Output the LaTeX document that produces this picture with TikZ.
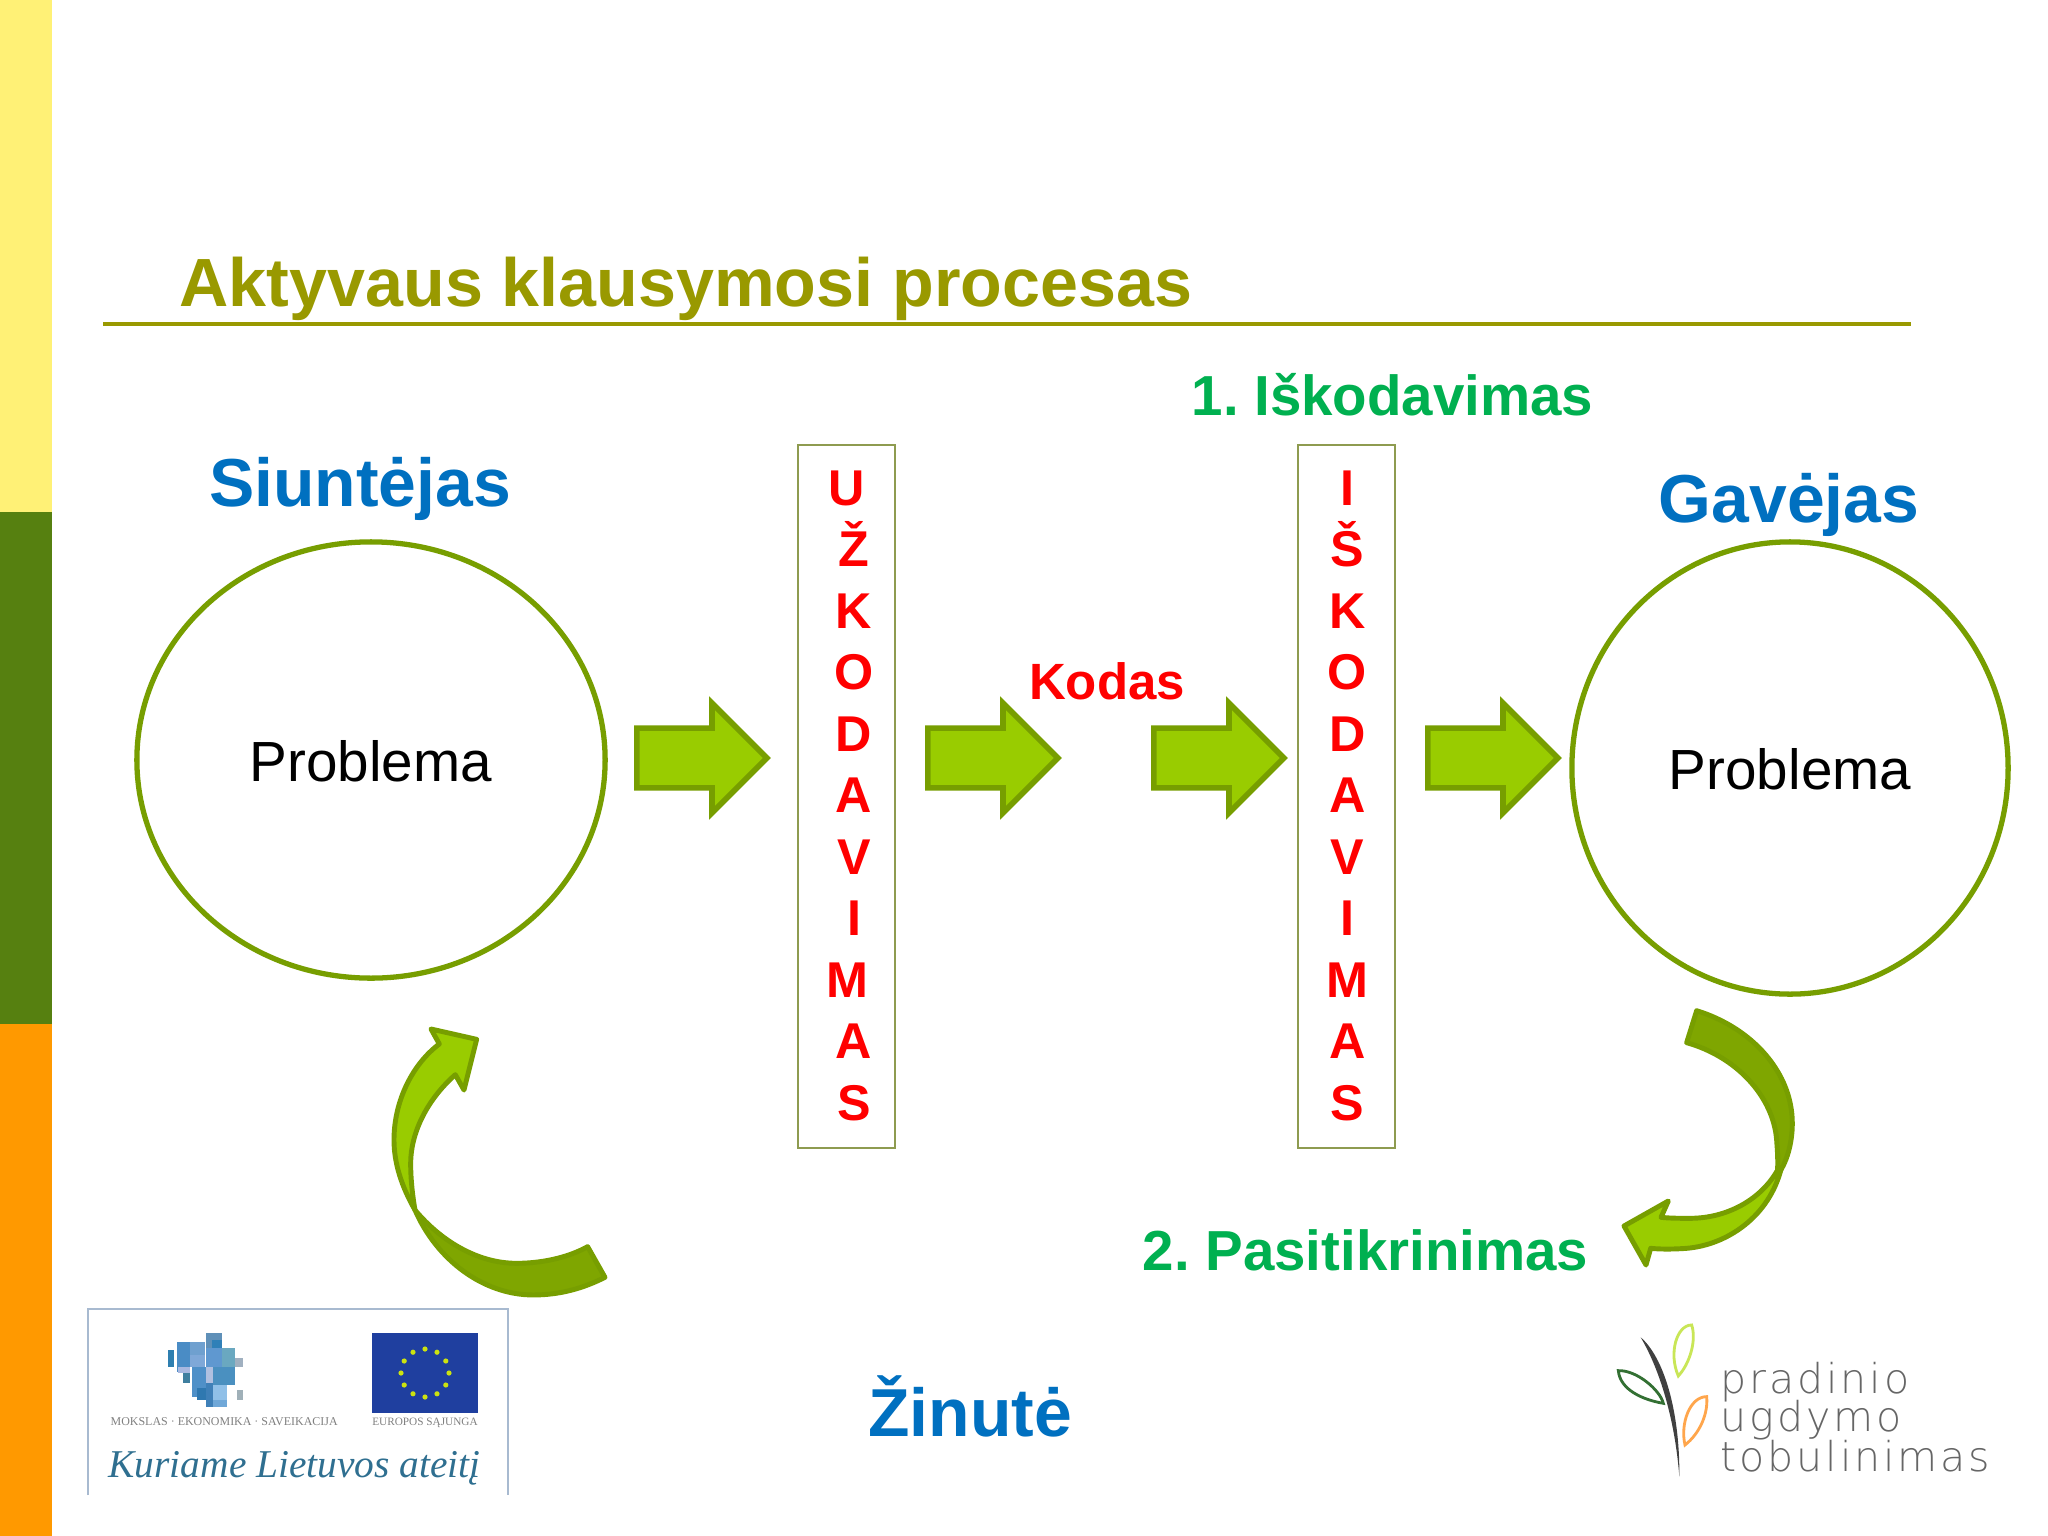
\documentclass[tikz,border=0pt]{standalone}
\usepackage{fontspec}
\setmainfont{Liberation Sans}
\newfontfamily\logoserif{Liberation Serif}
\newfontfamily\logosans[LetterSpace=7]{DejaVu Sans ExtraLight}
\usetikzlibrary{shapes.geometric,shapes.arrows}
\definecolor{olivetitle}{HTML}{999900}
\definecolor{edgegreen}{HTML}{779E00}
\definecolor{lightgreen}{HTML}{99CC00}
\definecolor{darkgreen}{HTML}{7FA600}
\definecolor{boxedge}{HTML}{8E9B50}
\definecolor{headblue}{HTML}{0070C0}
\definecolor{stepgreen}{HTML}{00B050}
\definecolor{codered}{HTML}{FF0000}
\definecolor{flagblue}{HTML}{1F3F9F}
\definecolor{baryellow}{HTML}{FFF176}
\definecolor{bargreen}{HTML}{568010}
\definecolor{barorange}{HTML}{FF9900}
\definecolor{logoedge}{HTML}{A8BAD0}
\definecolor{mottoblue}{HTML}{2F6F90}
\tikzset{
  heading/.style={anchor=base,inner sep=0pt,text=headblue,font=\fontsize{19.3}{23}\selectfont\bfseries},
  stepname/.style={anchor=base,inner sep=0pt,text=stepgreen,font=\fontsize{16.05}{19}\selectfont\bfseries\frenchspacing},
  codeletter/.style={anchor=base,inner sep=0pt,text=codered,font=\fontsize{14.3}{18}\selectfont\bfseries},
  party/.style={draw=edgegreen,line width=1.5pt,ellipse,inner sep=0pt,text height=12.5pt,text depth=0pt,font=\fontsize{16.1}{20}\selectfont},
  codebox/.style={draw=boxedge,line width=0.7pt,minimum width=0.97cm,minimum height=7.03cm,inner sep=0pt},
  blockarrow/.style={draw=edgegreen,fill=lightgreen,line width=1.6pt,single arrow,anchor=tail,inner sep=0pt,
    text height=0.54cm,text depth=0pt,minimum height=1.30cm,single arrow head extend=0.25cm},
  ribbonlight/.style={draw=edgegreen,fill=lightgreen,line width=1.4pt,line join=round},
  ribbondark/.style={draw=edgegreen,fill=darkgreen,line width=1.4pt,line join=round},
  logotext/.style={anchor=base west,inner sep=0pt,text=black!60,font=\logosans\fontsize{11.7}{14}\selectfont}
}
\begin{document}
\begin{tikzpicture}[x=0.01cm,y=-0.01cm]
\useasboundingbox (0,0) rectangle (2048,1536);
\fill[white] (0,0) rectangle (2048,1536);
\fill[baryellow] (0,0) rectangle (52,512);
\fill[bargreen] (0,512) rectangle (52,1024);
\fill[barorange] (0,1024) rectangle (52,1536);

% title
\node[anchor=base west,inner sep=0pt,text=olivetitle,font=\fontsize{19.4}{23}\selectfont\bfseries] (title) at (179,306.7) {Aktyvaus klausymosi procesas};
\draw[olivetitle,line width=1.1pt] (103,324) -- (1911,324);

\node[heading] (siuntejas) at (360,506.8) {Siuntėjas};
\node[heading] (gavejas) at (1789,522.5) {Gavėjas};
\node[heading] (zinute) at (970,1436) {Žinutė};
\node[stepname] (stepone) at (1392.5,415) {1. Iškodavimas};
\node[stepname] (steptwo) at (1365.5,1270.5) {2. Pasitikrinimas};
\node[anchor=base,inner sep=0pt,text=codered,font=\fontsize{14.5}{18}\selectfont\bfseries] (kodas) at (1107,699) {Kodas};

\node[party,minimum width=4.68cm,minimum height=4.36cm] (sender) at (371,760) {Problema};
\node[party,minimum width=4.36cm,minimum height=4.52cm] (receiver) at (1790,768) {Problema};

\node[codebox] (encode) at (846.5,796.5) {};
\node[codebox] (decode) at (1346.5,796.5) {};
\foreach \lettr/\xpos [count=\i from 0] in {U/847,Ž/854,K/854,O/854,D/854,A/854,V/854,I/854,M/847,A/854,S/854}
  \node[codeletter] (enc\i) at (\xpos,505+61.5*\i) {\lettr};
\foreach \lettr [count=\i from 0] in {I,Š,K,O,D,A,V,I,M,A,S}
  \node[codeletter] (dec\i) at (1347.5,505+61.5*\i) {\lettr};

\node[blockarrow] (arrowa) at (634,758) {};
\node[blockarrow] (arrowb) at (925,758) {};
\node[blockarrow] (arrowc) at (1151,758) {};
\node[blockarrow] (arrowd) at (1425,758) {};

% curved arrows
\begin{scope}[shift={(370,1000)},scale=0.3333]
\draw[ribbonlight] (135,630) .. controls (95,560) and (72,490) .. (72,420) .. controls (72,300) and (130,190) .. (208,132) -- (183,87) -- (320,118) -- (282,270) -- (256,224) .. controls (170,300) and (122,400) .. (122,490) .. controls (122,540) and (128,590) .. (135,630) -- cycle;
\draw[ribbondark] (135,630) .. controls (200,780) and (340,885) .. (490,885) .. controls (570,885) and (640,865) .. (705,832) -- (653,740) .. controls (590,775) and (510,790) .. (440,790) .. controls (320,790) and (210,720) .. (135,630) -- cycle;
\end{scope}
\begin{scope}[shift={(1580,1000)},scale=0.3333]
\draw[ribbonlight] (590,515) .. controls (540,600) and (440,655) .. (330,655) .. controls (300,655) and (270,655) .. (243,652) -- (265,603) -- (132,678) -- (198,795) -- (212,745) .. controls (240,748) and (280,748) .. (320,745) .. controls (440,735) and (570,650) .. (605,500) -- cycle;
\draw[ribbondark] (350,32) .. controls (520,85) and (637,220) .. (637,370) .. controls (637,430) and (620,490) .. (592,525) .. controls (595,480) and (592,450) .. (590,420) .. controls (580,290) and (470,170) .. (320,128) -- cycle;
% sprout
\draw[green!40!black!60!gray,line width=0.8pt] (115,1112) .. controls (170,1110) and (240,1170) .. (250,1210) .. controls (190,1200) and (120,1170) .. (115,1112) -- cycle;
\draw[yellow!70!green!70,line width=0.8pt] (335,975) .. controls (290,975) and (265,1060) .. (295,1128) .. controls (330,1090) and (350,1020) .. (335,975) -- cycle;
\draw[orange!70,line width=0.8pt] (380,1190) .. controls (330,1190) and (300,1270) .. (315,1335) .. controls (360,1300) and (385,1240) .. (380,1190) -- cycle;
\fill[black!75] (182,1012) .. controls (250,1070) and (300,1230) .. (298,1430) .. controls (285,1260) and (240,1110) .. (182,1012) -- cycle;
\end{scope}

% logos
\node[logotext] (logoa) at (1720,1393) {pradinio};
\node[logotext] (logob) at (1720,1431) {ugdymo};
\node[logotext] (logoc) at (1720,1471) {tobulinimas};

\draw[logoedge,line width=0.5pt] (88,1495) -- (88,1309) -- (508,1309) -- (508,1495);
\begin{scope}[shift={(150,1325)},scale=0.3333]
\foreach \xa/\ya/\xb/\yb/\tone in {55/75/72/125/2F7FB0,80/50/120/140/4A8CC5,120/50/165/90/6FA0CF,120/90/165/125/7FA8D8,85/125/120/145/A8B8E0,100/145/120/175/3F7F9F,125/125/168/215/4F90C8,140/190/168/225/2F78B0,168/25/215/70/5F90B8,185/45/215/70/2F80B8,168/70/215/125/5F98D0,168/125/190/175/B0C0E0,190/125/255/180/4A90C0,215/70/255/125/6AA8C0,255/100/278/125/A0B0C0,168/175/190/245/3F80B8,190/180/230/225/90C0E8,190/225/230/245/70A8D8,260/195/278/225/A0B0B8}{
  \definecolor{tilecol}{HTML}{\tone}
  \fill[tilecol] (\xa,\ya) rectangle (\xb,\yb);
}
\end{scope}
\node[anchor=base west,inner sep=0pt,text=gray,font=\logoserif\fontsize{3.4}{4}\selectfont] (moto) at (110,1425) {MOKSLAS · EKONOMIKA · SAVEIKACIJA};
\fill[flagblue] (372,1333) rectangle (478,1413);
\foreach \a in {0,30,...,330}
  \fill[yellow!80!green] (425,1373) ++(\a:24) circle (2.6);
\node[anchor=base,inner sep=0pt,text=gray,font=\logoserif\fontsize{3.2}{4}\selectfont] (union) at (425,1425) {EUROPOS SĄJUNGA};
\node[anchor=base west,inner sep=0pt,text=mottoblue,font=\logoserif\itshape\fontsize{11.2}{13}\selectfont] (motto) at (108,1477) {Kuriame Lietuvos ateitį};
\end{tikzpicture}
\end{document}
